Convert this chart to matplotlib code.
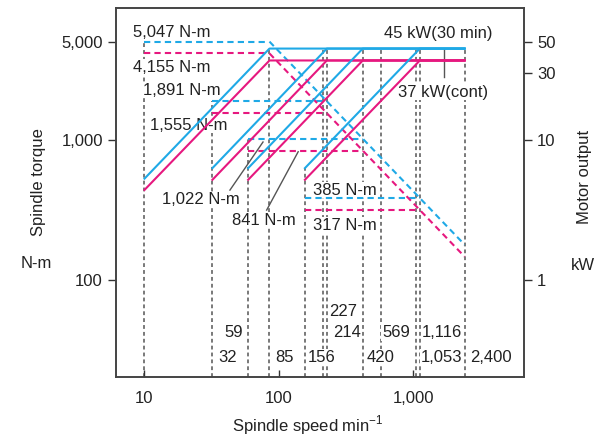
import matplotlib
matplotlib.use('Agg')
import matplotlib.pyplot as plt

plt.rcParams['font.family'] = ['Liberation Sans', 'DejaVu Sans']
plt.rcParams['mathtext.fontset'] = 'custom'
plt.rcParams['mathtext.rm'] = 'Liberation Sans'

BLUE = '#1fa9e6'
PINK = '#e6187f'
GRAY = '#555555'

# gear ranges: constant torque from min speed up to base speed
min_speed = [10, 32, 59, 156]
base_speed = [85, 227, 420, 1116]
top_speed = 2400
torque_30 = [5047, 1891, 1022, 385]
torque_cont = [4155, 1555, 841, 317]
power_30 = 45
power_cont = 37
start_power_30 = [5.3, 6.3, 6.3, 6.3]
start_power_cont = [4.4, 5.2, 5.2, 5.2]

# constant power torque curve
hp_speed = [85, 2400]
hp_torque_30 = [5047, 179]
hp_torque_cont = [4155, 147]

# grey dashed guides (top end in kW)
guide_speed = [10, 32, 59, 85, 156, 214, 227, 420, 569, 1053, 1116, 2400]
guide_top = [50.5, 18.9, 10.2, 45, 6.3, 45, 45, 45, 45, 45, 45, 45]

# speed labels: text, guide speed, row height (N-m), offset (pt)
speed_labels = ['32', '59', '85', '156', '227', '214', '420', '569', '1,116', '1,053', '2,400']
speed_label_at = [32, 59, 85, 156, 227, 214, 420, 569, 1053, 1053, 2400]
speed_label_y = [28, 42, 28, 28, 60, 42, 28, 42, 42, 28, 28]
speed_label_dx = [4, -4, 4, 2, 2, 7, 3, 1, 4, 3, 4]

xlim = (6.14, 6640)
ylim = (20.3, 8770)

fig = plt.figure(figsize=(5.98, 4.38), dpi=100)
ax = fig.add_axes([116 / 598, 1 - 377 / 438, 408 / 598, 369 / 438])
ax.set_xscale('log')
ax.set_yscale('log')
ax.set_xlim(*xlim)
ax.set_ylim(*ylim)

ax2 = ax.twinx()
ax2.set_yscale('log')
ax2.set_ylim(ylim[0] / 100, ylim[1] / 100)

# grey guides, tops given in kW -> x100 on torque scale
gls = (0, (2.5, 2))
for s, top in zip(guide_speed, guide_top):
    ax.plot([s, s], [ylim[0], top * 100], color=GRAY, lw=1.1, ls=gls, zorder=1)

# torque curves (dashed)
dls = (0, (3, 2))
for lo, hi, t30, tc in zip(min_speed, base_speed, torque_30, torque_cont):
    ax.plot([lo, hi], [t30, t30], color=BLUE, lw=1.5, ls=dls, zorder=3)
    ax.plot([lo, hi], [tc, tc], color=PINK, lw=1.5, ls=dls, zorder=3)
ax.plot(hp_speed, hp_torque_30, color=BLUE, lw=1.5, ls=dls, zorder=3)
ax.plot(hp_speed, hp_torque_cont, color=PINK, lw=1.5, ls=dls, zorder=3)

# output curves (solid)
for lo, hi, p30, pc in zip(min_speed, base_speed, start_power_30, start_power_cont):
    ax2.plot([lo, hi, top_speed], [p30, power_30, power_30], color=BLUE, lw=1.5, zorder=3)
    ax2.plot([lo, hi, top_speed], [pc, power_cont, power_cont], color=PINK, lw=1.5, zorder=3)

# torque value labels
fs = 12
box = dict(facecolor='white', edgecolor='none', pad=0.5)
ax.text(8.2, 5900, '5,047 N-m', fontsize=fs, va='center', color='#222', bbox=box, zorder=2)
ax.text(8.2, 3320, '4,155 N-m', fontsize=fs, va='center', color='#222', bbox=box, zorder=2)
ax.text(9.75, 2275, '1,891 N-m', fontsize=fs, va='center', color='#222', bbox=box, zorder=2)
ax.text(11.0, 1279, '1,555 N-m', fontsize=fs, va='center', color='#222', bbox=box, zorder=2)
ax.text(13.5, 373, '1,022 N-m', fontsize=fs, va='center', color='#222', bbox=box, zorder=2)
ax.text(44.7, 268, '841 N-m', fontsize=fs, va='center', color='#222', bbox=box, zorder=2)
ax.text(179, 439, '385 N-m', fontsize=fs, va='center', color='#222', bbox=box, zorder=2)
ax.text(179, 247, '317 N-m', fontsize=fs, va='center', color='#222', bbox=box, zorder=2)
ax.text(604, 5808, '45 kW(30 min)', fontsize=fs, va='center', color='#222')
ax.text(767, 2202, '37 kW(cont)', fontsize=fs, va='center', color='#222', bbox=box, zorder=2)

# leader lines
ax.plot([43.2, 76.1], [439, 968], color=GRAY, lw=1.0, zorder=2)
ax.plot([81.0, 139], [316, 825], color=GRAY, lw=1.0, zorder=2)
ax2.plot([1687, 1687], [45, 28], color=GRAY, lw=1.0, zorder=2)

for txt, s, y, dx in zip(speed_labels, speed_label_at, speed_label_y, speed_label_dx):
    ax.annotate(txt, xy=(s, y), xytext=(dx, 0), textcoords='offset points',
                ha='left' if dx > 0 else 'right', va='center', fontsize=fs,
                color='#222', bbox=box, zorder=2)

# axes styling
ax.set_xticks([10, 100, 1000], ['10', '100', '1,000'])
ax.set_yticks([100, 1000, 5000], ['100', '1,000', '5,000'])
ax2.set_yticks([1, 10, 30, 50], ['1', '10', '30', '50'])
ax.minorticks_off()
ax2.minorticks_off()
ax.tick_params(axis='x', direction='in', length=5, width=1, labelsize=fs, pad=10, colors='#333', labelcolor='#222')
ax.tick_params(axis='y', direction='out', length=6, width=1, labelsize=fs, colors='#333', labelcolor='#222')
ax2.tick_params(axis='y', direction='out', length=6, width=1, labelsize=fs, colors='#333', labelcolor='#222')
for a in (ax, ax2):
    for sp in a.spines.values():
        sp.set_color('#444')
        sp.set_linewidth(1.2)

fig.text(38 / 598, 1 - 182 / 438, 'Spindle torque', rotation=90, fontsize=fs,
         ha='center', va='center', color='#222')
fig.text(36 / 598, 1 - 263 / 438, 'N-m', fontsize=fs, ha='center', va='center', color='#222')
fig.text(585 / 598, 1 - 177 / 438, 'Motor output', rotation=90, fontsize=fs,
         ha='center', va='center', color='#222')
fig.text(583 / 598, 1 - 265 / 438, 'kW', fontsize=fs, ha='center', va='center', color='#222')
fig.text(308 / 598, 1 - 425 / 438, 'Spindle speed min$^{-1}$', fontsize=fs,
         ha='center', va='center', color='#222')

fig.savefig('out.png', dpi=100)
